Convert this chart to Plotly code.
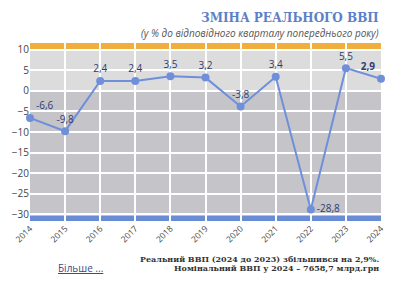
import plotly.graph_objects as go

years = [2014, 2015, 2016, 2017, 2018, 2019, 2020, 2021, 2022, 2023, 2024]
gdp_change = [-6.6, -9.8, 2.4, 2.4, 3.5, 3.2, -3.8, 3.4, -28.8, 5.5, 2.9]
labels = ["-6,6", "-9,8", "2,4", "2,4", "3,5", "3,2", "-3,8", "3,4", "-28,8", "5,5", "<b>2,9</b>"]
label_pos = ["top right", "top center", "top center", "top center", "top center", "top center",
             "top center", "top center", "middle right", "top center", "top left"]
y_ticks = [10, 5, 0, -5, -10, -15, -20, -25, -30]

title = "ЗМІНА РЕАЛЬНОГО ВВП"
subtitle = "(у % до відповідного кварталу попереднього року)"
note1 = "Реальний ВВП (2024 до 2023) збільшився на 2,9%."
note2 = "Номінальний ВВП у 2024 – 7658,7 млрд.грн"
more = "Більше ..."

fig = go.Figure()
fig.add_trace(go.Scatter(
    x=years, y=gdp_change, mode="lines+markers+text",
    line=dict(color="#6f8fdb", width=2),
    marker=dict(color="#6f8fdb", size=8),
    text=labels, textposition=label_pos,
    textfont=dict(family="Open Sans", size=10, color="#2f3b73"),
    cliponaxis=False, showlegend=False,
))

ymin, ymax = -31.6, 11.6
shapes = [
    dict(type="rect", xref="paper", yref="y", x0=0, x1=1, y0=0, y1=10,
         fillcolor="#dcdcdc", line_width=0, layer="below"),
    dict(type="rect", xref="paper", yref="y", x0=0, x1=1, y0=-30.3, y1=0,
         fillcolor="#c5c5c9", line_width=0, layer="below"),
    dict(type="rect", xref="paper", yref="y", x0=0, x1=1, y0=10, y1=ymax,
         fillcolor="#f0ae3c", line_width=0, layer="below"),
    dict(type="rect", xref="paper", yref="y", x0=0, x1=1, y0=ymin, y1=-30.3,
         fillcolor="#6a8bd6", line_width=0, layer="below"),
]

annotations = [
    dict(text=title, xref="paper", yref="paper", x=1, y=1, xanchor="right", yanchor="bottom",
         yshift=16, showarrow=False,
         font=dict(family="DejaVu Serif", size=12, color="#5b7fc9", weight="bold")),
    dict(text="<i>" + subtitle + "</i>", xref="paper", yref="paper", x=1, y=1, xanchor="right",
         yanchor="bottom", yshift=1, showarrow=False,
         font=dict(family="Open Sans", size=10, color="#555555")),
    dict(text="<b>" + note1 + "</b>", xref="paper", yref="paper", x=1, y=0, xanchor="right",
         yanchor="middle", yshift=-38, showarrow=False,
         font=dict(family="DejaVu Serif", size=8, color="#333333")),
    dict(text="<b>" + note2 + "</b>", xref="paper", yref="paper", x=1, y=0, xanchor="right",
         yanchor="middle", yshift=-47, showarrow=False,
         font=dict(family="DejaVu Serif", size=8, color="#333333")),
    dict(text="<u>" + more + "</u>", xref="paper", yref="paper", x=0, y=0, xanchor="left",
         yanchor="middle", xshift=26, yshift=-47, showarrow=False,
         font=dict(family="Open Sans", size=10, color="#3a4a8e")),
]

fig.update_layout(
    width=400, height=284,
    margin=dict(l=28, r=19, t=43, b=63),
    paper_bgcolor="white", plot_bgcolor="white",
    shapes=shapes, annotations=annotations,
    xaxis=dict(range=[2014, 2024], tickvals=years, ticktext=[str(y) for y in years],
               tickangle=-45, showgrid=True, gridcolor="white", gridwidth=1.5,
               zeroline=False, showline=False,
               tickfont=dict(family="Open Sans", size=8.5, color="#444444")),
    yaxis=dict(range=[ymin, ymax], tickvals=y_ticks, showgrid=True, gridcolor="white",
               gridwidth=1.5, zeroline=False, showline=False,
               tickfont=dict(family="Open Sans", size=10, color="#444444")),
)

fig.write_html("out.html")
